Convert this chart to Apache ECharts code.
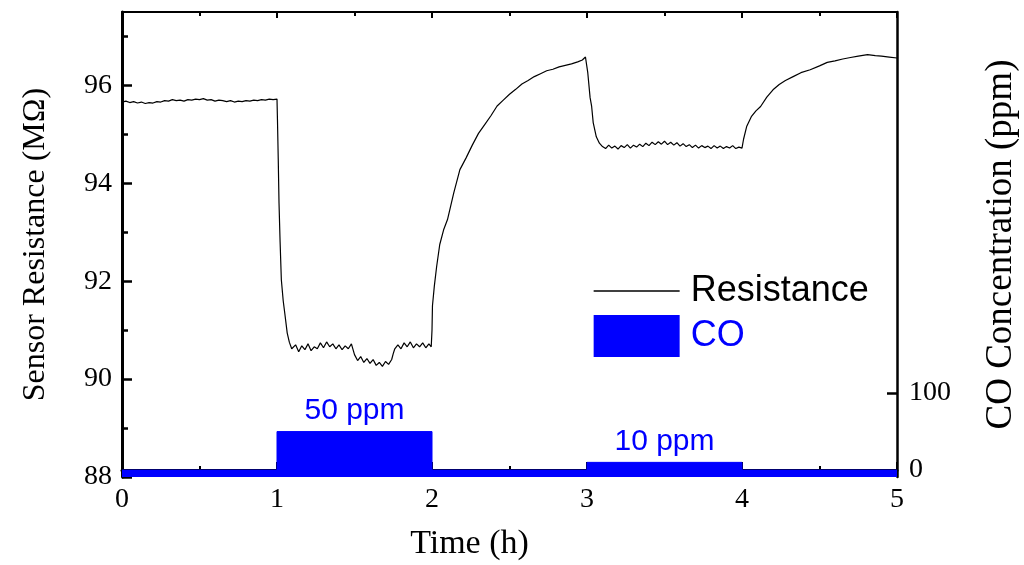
<!DOCTYPE html>
<html>
<head>
<meta charset="utf-8">
<script src="https://cdn.jsdelivr.net/npm/echarts@6/dist/echarts.min.js"></script>
<style>
  html, body { margin: 0; padding: 0; background: #fff; }
  #main { width: 1024px; height: 565px; }
</style>
</head>
<body>
<div id="main"></div>
<script>
// 传感器电阻 (MΩ) 随时间 (h)
var timeH = [
  0.000, 0.025, 0.050, 0.075, 0.100, 0.125, 0.150, 0.175, 0.200, 0.225,
  0.250, 0.275, 0.300, 0.325, 0.350, 0.375, 0.400, 0.425, 0.450, 0.475,
  0.500, 0.525, 0.550, 0.575, 0.600, 0.625, 0.650, 0.675, 0.700, 0.725,
  0.750, 0.775, 0.800, 0.825, 0.850, 0.875, 0.900, 0.925, 0.950, 0.975,
  1.000, 1.003, 1.008, 1.013, 1.020, 1.028, 1.040, 1.050, 1.066, 1.080, 1.095,
  1.10, 1.12, 1.14, 1.16, 1.18, 1.20, 1.22, 1.24, 1.26, 1.28,
  1.30, 1.32, 1.34, 1.36, 1.38, 1.40, 1.42, 1.44, 1.46, 1.48, 1.49,
  1.50, 1.52, 1.54, 1.56, 1.58, 1.60, 1.62, 1.64, 1.66, 1.68, 1.70, 1.72, 1.74,
  1.75, 1.76, 1.78, 1.80, 1.82, 1.84, 1.86, 1.88, 1.90, 1.92, 1.94, 1.96, 1.98, 1.995,
  2.000, 2.003, 2.015, 2.030, 2.050, 2.075, 2.100, 2.140, 2.180,
  2.22, 2.26, 2.30, 2.34, 2.38, 2.42, 2.46, 2.50, 2.54, 2.58,
  2.62, 2.66, 2.70, 2.74, 2.78, 2.82, 2.86, 2.90, 2.94, 2.97, 2.99,
  3.000, 3.005, 3.020, 3.030, 3.040, 3.060, 3.080, 3.100,
  3.12, 3.14, 3.16, 3.18, 3.20, 3.22, 3.24, 3.26, 3.28, 3.30,
  3.32, 3.34, 3.36, 3.38, 3.40, 3.42, 3.44, 3.46, 3.48, 3.50,
  3.52, 3.54, 3.56, 3.58, 3.60, 3.62, 3.64, 3.66, 3.68, 3.70,
  3.72, 3.74, 3.76, 3.78, 3.80, 3.82, 3.84, 3.86, 3.88, 3.90,
  3.92, 3.94, 3.96, 3.98, 4.00,
  4.01, 4.03, 4.06, 4.09, 4.12, 4.16, 4.20, 4.24, 4.28, 4.33,
  4.38, 4.44, 4.50, 4.55, 4.60, 4.65, 4.70, 4.75, 4.81, 4.86,
  4.90, 4.95, 5.00
];
var resistance = [
  95.66, 95.68, 95.65, 95.67, 95.64, 95.66, 95.63, 95.65, 95.64, 95.67,
  95.66, 95.69, 95.68, 95.71, 95.69, 95.70, 95.68, 95.71, 95.70, 95.72,
  95.71, 95.73, 95.70, 95.71, 95.68, 95.70, 95.69, 95.67, 95.69, 95.66,
  95.68, 95.67, 95.69, 95.68, 95.70, 95.69, 95.71, 95.70, 95.72, 95.71,
  95.72, 95.30, 94.50, 93.60, 92.80, 92.03, 91.60, 91.35, 90.94, 90.75, 90.62,
  90.58, 90.70, 90.56, 90.68, 90.60, 90.72, 90.58, 90.66, 90.62, 90.74,
  90.64, 90.76, 90.66, 90.72, 90.62, 90.70, 90.60, 90.68, 90.62, 90.72, 90.70,
  90.50, 90.38, 90.46, 90.34, 90.42, 90.32, 90.40, 90.28, 90.34, 90.26, 90.36, 90.30, 90.40,
  90.52, 90.62, 90.70, 90.62, 90.74, 90.66, 90.76, 90.64, 90.72, 90.66, 90.74, 90.64, 90.72, 90.66,
  91.00, 91.50, 91.90, 92.30, 92.75, 93.05, 93.26, 93.80, 94.28,
  94.52, 94.78, 95.02, 95.20, 95.38, 95.58, 95.70, 95.82, 95.92, 96.03,
  96.10, 96.18, 96.24, 96.30, 96.33, 96.38, 96.41, 96.44, 96.48, 96.52, 96.58,
  96.62, 96.26, 95.75, 95.57, 95.24, 94.95, 94.82, 94.75,
  94.71, 94.78, 94.72, 94.76, 94.70, 94.77, 94.73, 94.79, 94.72, 94.78,
  94.74, 94.80, 94.75, 94.82, 94.77, 94.84, 94.79, 94.85, 94.80, 94.86,
  94.79, 94.84, 94.78, 94.83, 94.76, 94.81, 94.75, 94.79, 94.73, 94.78,
  94.72, 94.77, 94.73, 94.76, 94.71, 94.77, 94.72, 94.76, 94.71, 94.75,
  94.72, 94.77, 94.71, 94.74, 94.72,
  94.90, 95.16, 95.36, 95.48, 95.57, 95.76, 95.91, 96.02, 96.10, 96.18,
  96.26, 96.32, 96.40, 96.47, 96.50, 96.54, 96.57, 96.60, 96.63, 96.61,
  96.60, 96.58, 96.56
];

// CO 浓度 (ppm)
var coTime = [0, 1, 1, 2, 2, 3, 3, 4, 4, 5];
var coPpm  = [0, 0, 50, 50, 0, 0, 10, 10, 0, 0];
var coNotes = [
  {t: 1.5, ppm: 50, text: '50 ppm'},
  {t: 3.5, ppm: 10, text: '10 ppm'}
];

var leftMajor = [88, 90, 92, 94, 96];
var leftMinor = [89, 91, 93, 95, 97];
var rightTicks = [0, 100];

var serif = '"Liberation Serif", "Times New Roman", serif';
var sans = '"Liberation Sans", Arial, sans-serif';
var blue = '#0000ff';

var resData = [];
for (var i = 0; i < timeH.length; i++) resData.push([timeH[i], resistance[i]]);
var coData = [];
for (var j = 0; j < coTime.length; j++) coData.push([coTime[j], coPpm[j]]);

var myChart = echarts.init(document.getElementById('main'));
var option = {
    animation: false,
    backgroundColor: '#fff',
    grid: {
        left: 122, right: 127, top: 12, bottom: 88,
        containLabel: false,
        outerBoundsMode: 'none'
    },
    legend: {
        orient: 'vertical',
        left: 588,
        top: 268,
        itemWidth: 86,
        itemHeight: 42,
        itemGap: 6,
        textStyle: {fontFamily: sans, fontSize: 36, padding: [0, 0, 0, 6]},
        data: [
            // 只要线，不要圆点
            {name: 'Resistance', itemStyle: {opacity: 0}, lineStyle: {color: '#000', width: 1.3, opacity: 1}, textStyle: {color: '#000'}},
            {name: 'CO', icon: 'rect', textStyle: {color: blue}}
        ]
    },
    xAxis: [{
        type: 'value', min: 0, max: 5, interval: 1, position: 'bottom',
        name: 'Time (h)', nameLocation: 'middle', nameGap: 50,
        nameTextStyle: {fontFamily: serif, fontSize: 34, color: '#000', padding: [0, 80, 0, 0]},
        axisLine: {lineStyle: {color: '#000', width: 3}},
        axisTick: {inside: true, length: 8, lineStyle: {width: 2}},
        minorTick: {show: true, splitNumber: 2, length: 4, lineStyle: {color: '#000', width: 2}},
        axisLabel: {fontFamily: serif, fontSize: 28, color: '#000', margin: 9},
        splitLine: {show: false}
    }, {
        type: 'value', min: 0, max: 5, interval: 1, position: 'top',
        axisLine: {lineStyle: {color: '#000', width: 2}},
        axisTick: {inside: true, length: 6, lineStyle: {width: 2}},
        minorTick: {show: true, splitNumber: 2, length: 4, lineStyle: {color: '#000', width: 2}},
        axisLabel: {show: false},
        splitLine: {show: false}
    }],
    yAxis: [{
        type: 'value', min: 88, max: 97.5, position: 'left',
        name: 'Sensor Resistance (MΩ)', nameLocation: 'middle', nameGap: 70,
        nameTextStyle: {fontFamily: serif, fontSize: 32, color: '#000'},
        axisLine: {show: true, lineStyle: {color: '#000', width: 3}},
        axisTick: {show: true, inside: true, length: 10, customValues: leftMajor, lineStyle: {width: 2.5}},
        axisLabel: {fontFamily: serif, fontSize: 28, color: '#000', margin: 10, customValues: leftMajor},
        splitLine: {show: false}
    }, {
        type: 'value', min: 88, max: 97.5, position: 'left', offset: 0,
        axisLine: {show: false},
        axisTick: {show: true, inside: true, length: 6, customValues: leftMinor, lineStyle: {color: '#000', width: 2.5}},
        axisLabel: {show: false},
        splitLine: {show: false}
    }, {
        type: 'value', min: -9, max: 595, position: 'right',
        name: 'CO Concentration (ppm)', nameLocation: 'middle', nameGap: 86, nameRotate: 90,
        nameTextStyle: {fontFamily: serif, fontSize: 37, color: '#000'},
        axisLine: {show: true, lineStyle: {color: '#000', width: 2.5}},
        axisTick: {show: true, inside: true, length: 10, customValues: rightTicks, lineStyle: {width: 2.5}},
        axisLabel: {fontFamily: serif, fontSize: 28, color: '#000', margin: 12, customValues: rightTicks},
        splitLine: {show: false}
    }],
    series: [{
        name: 'CO',
        type: 'line',
        xAxisIndex: 0,
        yAxisIndex: 2,
        data: coData,
        symbol: 'none',
        itemStyle: {color: blue},
        lineStyle: {color: blue, width: 1},
        areaStyle: {color: blue, opacity: 1, origin: 'start'},
        markPoint: {
            symbol: 'circle',
            symbolSize: 2,
            itemStyle: {color: 'rgba(0,0,0,0)'},
            label: {
                show: true, position: 'top', distance: 5,
                fontFamily: sans, fontSize: 30, color: blue,
                formatter: '{b}'
            },
            data: coNotes.map(function (n) {
                return {name: n.text, coord: [n.t, n.ppm]};
            })
        },
        z: 2
    }, {
        name: 'Resistance',
        type: 'line',
        xAxisIndex: 0,
        yAxisIndex: 0,
        data: resData,
        symbol: 'none',
        itemStyle: {color: '#000'},
        lineStyle: {color: '#000', width: 1.2},
        z: 3
    }]
};
myChart.setOption(option);
</script>
</body>
</html>
